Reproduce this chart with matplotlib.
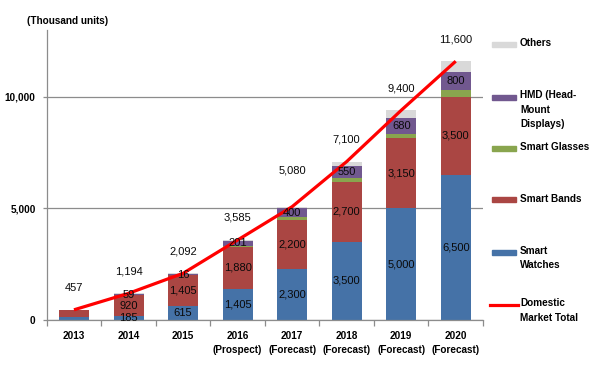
import matplotlib
matplotlib.use("Agg")
import matplotlib.pyplot as plt
from matplotlib.patches import Rectangle
from matplotlib.lines import Line2D
import numpy as np

years = ["2013", "2014", "2015", "2016\n(Prospect)", "2017\n(Forecast)",
         "2018\n(Forecast)", "2019\n(Forecast)", "2020\n(Forecast)"]
watches = [120, 185, 615, 1405, 2300, 3500, 5000, 6500]
bands = [330, 920, 1405, 1880, 2200, 2700, 3150, 3500]
glasses = [0, 0, 16, 50, 100, 150, 210, 300]
hmd = [7, 59, 40, 201, 400, 550, 680, 800]
others = [0, 30, 16, 49, 80, 200, 360, 500]
totals = [457, 1194, 2092, 3585, 5080, 7100, 9400, 11600]

show_watches = [False, True, True, True, True, True, True, True]
show_bands = [False, True, True, True, True, True, True, True]
show_glasses = [False, False, True, False, False, False, False, False]
show_hmd = [False, True, False, True, True, True, True, True]

C_WATCH = "#4572A7"
C_BAND = "#AA4643"
C_GLASS = "#89A54E"
C_HMD = "#71588F"
C_OTH = "#D9D9D9"
C_LINE = "#FF0000"

plt.rcParams["font.family"] = ["Liberation Sans", "DejaVu Sans"]
FS_LAB = 8.0
FS_B = 7.2

W, H = 596, 372
fig = plt.figure(figsize=(W / 100, H / 100), dpi=100)
ax = fig.add_axes([46.7 / W, 1 - 320 / H, (483 - 46.7) / W, (320 - 30) / H])

x = np.arange(len(years))
bw = 0.55
series = [(watches, C_WATCH, show_watches), (bands, C_BAND, show_bands),
          (glasses, C_GLASS, show_glasses), (hmd, C_HMD, show_hmd),
          (others, C_OTH, None)]
bottom = np.zeros(len(years))
for vals, col, show in series:
    v = np.array(vals, dtype=float)
    ax.bar(x, v, bw, bottom=bottom, color=col, zorder=2, linewidth=0)
    if show is not None:
        for i in range(len(years)):
            if show[i]:
                ax.text(x[i], bottom[i] + v[i] / 2, f"{vals[i]:,}", ha="center",
                        va="center", fontsize=FS_LAB, color="#0a0a0a", zorder=4)
    bottom += v

ax.plot(x, totals, color=C_LINE, lw=2.3, zorder=3, solid_capstyle="butt")
extra = [0, 0, 0, 0, 10, 0, 0, 0]
for i, t in enumerate(totals):
    ax.annotate(f"{t:,}", (x[i], t), xytext=(0, 16 + extra[i]),
                textcoords="offset points", ha="center", va="center",
                fontsize=FS_LAB, color="#0a0a0a", zorder=4)

ax.set_xlim(-0.5, len(years) - 0.5)
ax.set_ylim(0, 13000)
ax.set_yticks([0, 5000, 10000])
ax.set_yticklabels(["0", "5,000", "10,000"], fontsize=FS_B, fontweight="bold")
ax.yaxis.grid(True, color="#8C8C8C", lw=0.9, zorder=0)
ax.set_axisbelow(True)
ax.set_xticks(x)
ax.set_xticklabels(years, fontsize=FS_B, fontweight="bold", linespacing=1.45)
ax.set_xticks(np.arange(-0.5, len(years), 1.0), minor=True)
ax.tick_params(axis="x", which="major", length=0, pad=8)
ax.tick_params(axis="x", which="minor", length=4, color="#8C8C8C", width=0.9)
ax.tick_params(axis="y", length=3, color="#8C8C8C", width=0.9, pad=5)
for s in ["top", "right"]:
    ax.spines[s].set_visible(False)
for s in ["left", "bottom"]:
    ax.spines[s].set_color("#8C8C8C")
    ax.spines[s].set_linewidth(0.9)

fig.text(27 / W, 1 - 21 / H, "(Thousand units)", fontsize=FS_B, fontweight="bold",
         ha="left", va="center")

# legend
entries = [("Others", C_OTH, 44, "patch"),
           ("HMD (Head-\nMount\nDisplays)", C_HMD, 97, "patch"),
           ("Smart Glasses", C_GLASS, 148, "patch"),
           ("Smart Bands", C_BAND, 200, "patch"),
           ("Smart\nWatches", C_WATCH, 252, "patch"),
           ("Domestic\nMarket Total", C_LINE, 305, "line")]
for label, col, yy, kind in entries:
    if kind == "patch":
        fig.patches.append(Rectangle((492 / W, 1 - (yy + 2.5) / H), 24 / W, 5 / H,
                                     color=col, transform=fig.transFigure, figure=fig))
    else:
        fig.lines.append(Line2D([490 / W, 518 / W], [1 - yy / H, 1 - yy / H],
                                color=col, lw=2.3, transform=fig.transFigure, figure=fig))
    fig.text(520 / W, 1 - (yy - 6.5) / H, label, fontsize=FS_B, fontweight="bold",
             ha="left", va="top", linespacing=1.55)

fig.savefig("out.png", dpi=100)
